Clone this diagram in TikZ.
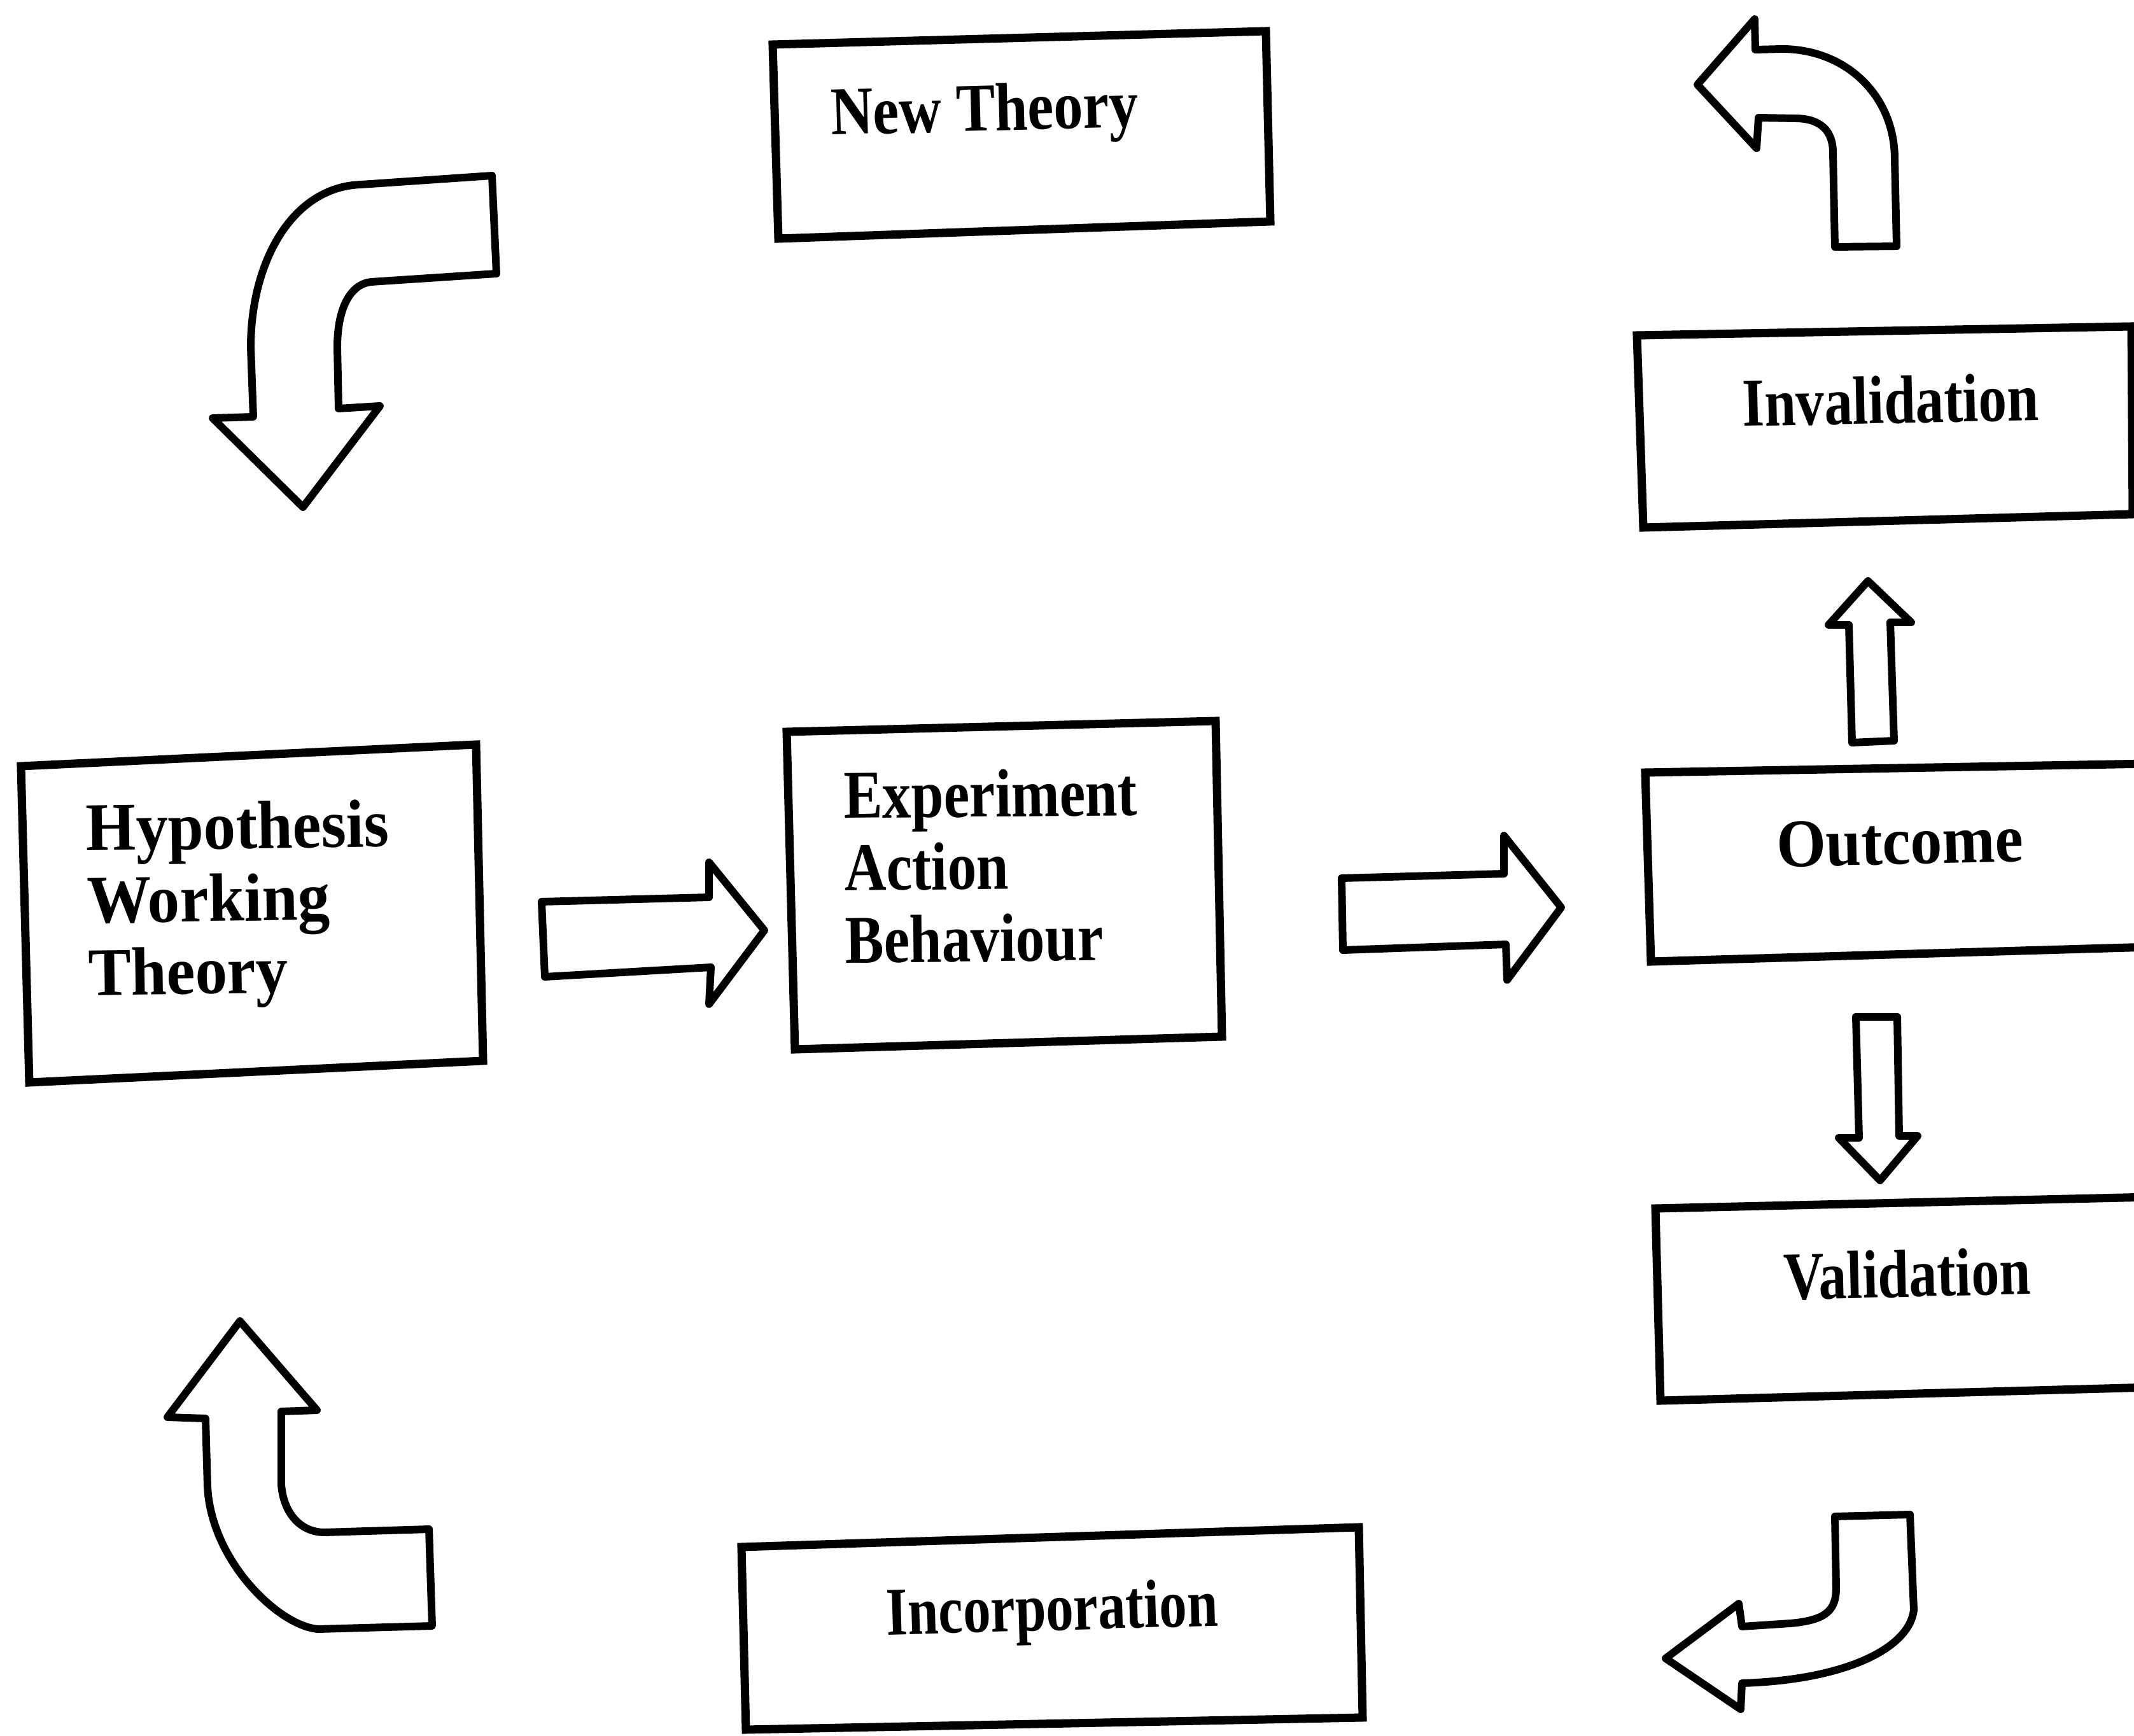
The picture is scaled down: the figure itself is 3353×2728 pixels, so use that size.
\documentclass[tikz,border=0pt]{standalone}
\usepackage{fontspec}
\usepackage{graphicx}
\setmainfont{Liberation Serif}
% horizontally condensed label text
\newcommand{\hsq}[2]{\scalebox{#1}[1]{#2}}
\newcommand{\stack}[2]{\scalebox{#1}[1]{\begin{tabular}[t]{@{}l@{}}#2\end{tabular}}}
\begin{document}
\begin{tikzpicture}[x=0.01cm,y=-0.01cm,
  box/.style={draw=black,line width=3.7pt,line join=miter},
  blockarrow/.style={draw=black,line width=3.4pt,line join=round,fill=white},
  lbl/.style={inner sep=0pt,outer sep=0pt,font=\fontsize{30.5}{32.3}\selectfont\bfseries},
]
\useasboundingbox (0,0) rectangle (3353,2728);
\fill[white] (0,0) rectangle (3353,2728);
\clip (0,0) rectangle (3353,2728);

% ---- boxes ----
\draw[box] (1214,70) -- (1989,49) -- (1996,348) -- (1223,375) -- cycle;      % New Theory
\draw[box] (33,1204) -- (748,1170) -- (759,1667) -- (46,1701) -- cycle;      % Hypothesis
\draw[box] (1236,1150) -- (1910,1133) -- (1920,1629) -- (1249,1649) -- cycle; % Experiment
\draw[box] (2572,527) -- (3349,513) -- (3351,808) -- (2582,829) -- cycle;    % Invalidation
\draw[box] (2585,1214) -- (3380,1200) -- (3380,1488) -- (2594,1511) -- cycle; % Outcome
\draw[box] (2601,1899) -- (3380,1881) -- (3380,2180) -- (2609,2201) -- cycle; % Validation
\draw[box] (1165,2431) -- (2135,2400) -- (2141,2699) -- (1172,2718) -- cycle; % Incorporation

% ---- labels ----
\node[lbl,anchor=base west,rotate=1.5] (newtheory) at (1306,212) {\hsq{0.86}{New Theory}};
\node[lbl,anchor=base west,rotate=0.8] (hypothesis) at (136,1337) {\stack{0.94}{Hypothesis\\Working\\Theory}};
\node[lbl,anchor=base west,rotate=0.6] (experiment) at (1326,1286) {\stack{0.85}{Experiment\\Action\\Behaviour}};
\node[lbl,anchor=base,rotate=1.2] (invalidation) at (2971,665) {\hsq{0.83}{Invalidation}};
\node[lbl,anchor=base,rotate=1.2] (outcome) at (2986,1358) {\hsq{0.93}{Outcome}};
\node[lbl,anchor=base,rotate=1.3] (validation) at (2997,2038) {\hsq{0.82}{Validation}};
\node[lbl,anchor=base,rotate=1.6] (incorporation) at (1654,2562) {\hsq{0.81}{Incorporation}};

% ---- straight block arrows ----
\draw[blockarrow] (851,1417) -- (1114,1410) -- (1114,1355) -- (1201,1462)
  -- (1114,1578) -- (1117,1520) -- (856,1535) -- cycle;
\draw[blockarrow] (2108,1380) -- (2363,1373) -- (2363,1313) -- (2453,1426)
  -- (2368,1540) -- (2366,1484) -- (2110,1493) -- cycle;
\draw[blockarrow] (2910,1167) -- (2905,982) -- (2873,982) -- (2935,913)
  -- (3003,978) -- (2970,978) -- (2976,1164) -- cycle;
\draw[blockarrow] (2916,1598) -- (2981,1598) -- (2984,1785) -- (3013,1785)
  -- (2954,1855) -- (2889,1788) -- (2921,1788) -- cycle;

% ---- curved block arrows ----
% top left, turning down towards the hypothesis box
\draw[blockarrow] (773,276) -- (780,430) -- (583,443)
  .. controls (553,446) and (530,480) .. (530,546) -- (532,642) -- (597,638)
  -- (476,797) -- (334,657) -- (398,655) -- (394,546)
  .. controls (394,410) and (460,293) .. (568,290) -- cycle;
% top right, turning left above the invalidation box
\draw[blockarrow] (2667,133) -- (2757,30) -- (2758,78) -- (2800,77)
  .. controls (2900,77) and (2977,150) .. (2977,250) -- (2980,387) -- (2883,388)
  -- (2880,240) .. controls (2880,205) and (2860,186) .. (2820,186)
  -- (2763,185) -- (2760,233) -- cycle;
% bottom left, turning up towards the hypothesis box
\draw[blockarrow] (377,2076) -- (498,2216) -- (442,2218) -- (442,2333)
  .. controls (445,2375) and (470,2408) .. (510,2408) -- (674,2403) -- (679,2555)
  -- (500,2560) .. controls (440,2556) and (332,2455) .. (326,2336)
  -- (323,2229) -- (263,2227) -- cycle;
% bottom right, turning left below the validation box
\draw[blockarrow] (2883,2383) -- (3001,2380) -- (3007,2530)
  .. controls (3000,2590) and (2900,2640) .. (2737,2645) -- (2735,2686)
  -- (2617,2606) -- (2732,2520) -- (2737,2556) -- (2813,2551)
  .. controls (2870,2546) and (2885,2530) .. (2885,2495) -- cycle;
\end{tikzpicture}
\end{document}
